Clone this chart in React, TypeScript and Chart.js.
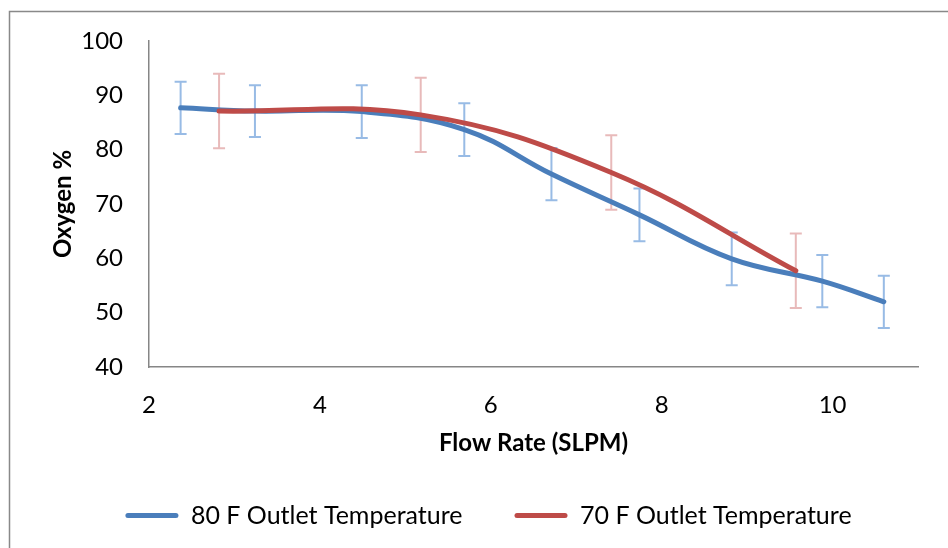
import React, { useEffect, useRef } from 'react';
import { Chart, registerables } from 'chart.js';

Chart.register(...registerables);

// ---- data ----
const seriesNames = ['80 F Outlet Temperature', '70 F Outlet Temperature'];
const blueFlow = [2.37, 3.24, 4.49, 5.69, 6.71, 7.74, 8.82, 9.88, 10.6];
const blueOxygen = [87.7, 87.1, 87.0, 83.7, 75.5, 68.0, 59.9, 55.8, 52.0];
const blueError = [4.8, 4.75, 4.85, 4.85, 4.8, 4.85, 4.85, 4.8, 4.8];
const redFlow = [2.82, 5.18, 7.41, 9.57];
const redOxygen = [87.1, 86.4, 75.8, 57.7];
const redError = [6.85, 6.85, 6.85, 6.85];
const xTickValues = [2, 4, 6, 8, 10];
const yTickValues = [40, 50, 60, 70, 80, 90, 100];
const xTitle = 'Flow Rate (SLPM)';
const yTitle = 'Oxygen %';

const FONT = 'Lato, "Open Sans", sans-serif';

const frame = {
  id: 'frame',
  beforeDraw(chart: any) {
    const { ctx, width, height } = chart;
    ctx.save();
    ctx.fillStyle = '#ffffff';
    ctx.fillRect(0, 0, width, height);
    ctx.strokeStyle = '#898989';
    ctx.lineWidth = 1.5;
    ctx.strokeRect(9.5, 11.5, width + 20, height + 20);
    ctx.restore();
  },
};

const errorBars = {
  id: 'errorBars',
  beforeDatasetsDraw(chart: any) {
    const { ctx } = chart;
    const xs = chart.scales.x;
    const ys = chart.scales.y;
    ctx.save();
    chart.data.datasets.forEach((ds: any) => {
      const errs: number[] = ds.errors || [];
      ctx.strokeStyle = ds.errorColor;
      ctx.lineWidth = 2;
      ds.data.forEach((p: any, i: number) => {
        const e = errs[i];
        if (e == null) return;
        const x = xs.getPixelForValue(p.x);
        const y1 = ys.getPixelForValue(p.y + e);
        const y2 = ys.getPixelForValue(p.y - e);
        ctx.beginPath();
        ctx.moveTo(x, y1);
        ctx.lineTo(x, y2);
        ctx.moveTo(x - 6, y1);
        ctx.lineTo(x + 6, y1);
        ctx.moveTo(x - 6, y2);
        ctx.lineTo(x + 6, y2);
        ctx.stroke();
      });
    });
    ctx.restore();
  },
};

export default function App() {
  const ref = useRef<HTMLCanvasElement | null>(null);
  useEffect(() => {
    if (!ref.current) return;
    const chart = new Chart(ref.current, {
      type: 'line',
      data: {
        datasets: [
          {
            label: seriesNames[0],
            data: blueFlow.map((x, i) => ({ x, y: blueOxygen[i] })),
            borderColor: '#4A7EBB',
            backgroundColor: '#4A7EBB',
            borderWidth: 5,
            pointRadius: 0,
            tension: 0.4,
            borderCapStyle: 'round',
            order: 1,
            errors: blueError,
            errorColor: 'rgba(141,180,226,0.9)',
          } as any,
          {
            label: seriesNames[1],
            data: redFlow.map((x, i) => ({ x, y: redOxygen[i] })),
            borderColor: '#BE4B48',
            backgroundColor: '#BE4B48',
            borderWidth: 5,
            pointRadius: 0,
            tension: 0.4,
            borderCapStyle: 'round',
            order: 0,
            errors: redError,
            errorColor: 'rgba(230,178,178,0.9)',
          } as any,
        ],
      },
      options: {
        responsive: false,
        animation: false,
        layout: { padding: { left: 29, right: 0, top: 41, bottom: 10 } },
        plugins: {
          tooltip: { enabled: false },
          legend: {
            position: 'bottom',
            labels: {
              font: { family: FONT, size: 25 },
              color: '#000000',
              boxWidth: 53,
              boxHeight: 5,
              padding: 52,
              useBorderRadius: true,
              borderRadius: 2.5,
              sort: (a: any, b: any) => a.datasetIndex - b.datasetIndex,
              generateLabels: (c: any) =>
                Chart.defaults.plugins.legend.labels
                  .generateLabels(c)
                  .map((l: any) => ({ ...l, lineWidth: 0, fillStyle: l.strokeStyle })),
            },
          },
        },
        scales: {
          x: {
            type: 'linear',
            min: 2,
            max: 11,
            afterFit: (s: any) => {
              s.height = 84;
            },
            afterBuildTicks: (s: any) => {
              s.ticks = xTickValues.map((v) => ({ value: v }));
            },
            ticks: {
              includeBounds: false,
              font: { family: FONT, size: 24 },
              color: '#000000',
              padding: 24,
              maxRotation: 0,
            },
            grid: { display: false, drawTicks: false },
            border: { display: true, color: '#868686', width: 1.5 },
            title: {
              display: true,
              text: xTitle,
              font: { family: FONT, size: 24, weight: 'bold' },
              color: '#000000',
              padding: { top: 0, bottom: -7 },
            },
          },
          y: {
            type: 'linear',
            min: 40,
            max: 100,
            afterFit: (s: any) => {
              s.width = 120;
            },
            afterBuildTicks: (s: any) => {
              s.ticks = yTickValues.map((v) => ({ value: v }));
            },
            ticks: {
              font: { family: FONT, size: 24 },
              color: '#000000',
              padding: 26,
            },
            grid: { display: false, drawTicks: false },
            border: { display: true, color: '#868686', width: 1.5 },
            title: {
              display: true,
              text: yTitle,
              font: { family: FONT, size: 24, weight: 'bold' },
              color: '#000000',
              padding: { top: 20, bottom: 0 },
            },
          },
          yR: {
            position: 'right',
            display: true,
            min: 0,
            max: 1,
            afterFit: (s: any) => {
              s.width = 30;
            },
            ticks: { display: false },
            grid: { display: false, drawTicks: false },
            border: { display: false },
          },
        },
      } as any,
      plugins: [frame, errorBars],
    });
    return () => chart.destroy();
  }, []);
  return (
    <div style={{ position: 'absolute', left: 0, top: 0, width: 948, height: 548 }}>
      <canvas ref={ref} width={948} height={548} style={{ width: 948, height: 548 }} />
    </div>
  );
}
